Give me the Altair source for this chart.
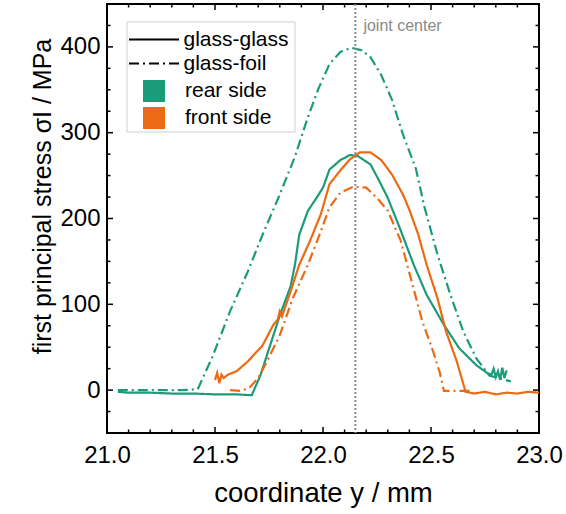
import altair as alt
import pandas as pd

TEAL = "#1b9b7a"
ORANGE = "#ec6a14"
FONT = "Liberation Sans"

# ---- data ----
sides = ["rear side", "front side"]
kinds = ["glass-glass", "glass-foil"]

rear_gg_x = [21.05, 21.10, 21.20, 21.30, 21.40, 21.50, 21.60, 21.67, 21.71, 21.755, 21.80, 21.85,
             21.87, 21.89, 21.93, 21.97, 22.00, 22.03, 22.08, 22.125, 22.16, 22.22, 22.26, 22.30,
             22.36, 22.42, 22.48, 22.56, 22.63, 22.71, 22.76, 22.78, 22.79, 22.80, 22.81, 22.82,
             22.83, 22.84, 22.85]
rear_gg_y = [-2, -3, -3, -4, -4, -5, -5, -6, 17, 52, 87, 121,
             146, 181, 209, 224, 236, 257, 268, 274, 273, 263, 244, 224,
             186, 146, 111, 76, 49, 29, 20, 18, 25, 15, 22, 12,
             26, 14, 23]

rear_gf_x = [21.05, 21.20, 21.35, 21.42, 21.49, 21.57, 21.65, 21.72, 21.80, 21.87, 21.93, 21.98,
             22.03, 22.08, 22.13, 22.18, 22.22, 22.27, 22.32, 22.37, 22.43, 22.47, 22.53, 22.59,
             22.65, 22.71, 22.77, 22.87]
rear_gf_y = [0, 0, 0, 1, 40, 92, 137, 181, 228, 272, 318, 352,
             380, 394, 399, 396, 388, 367, 338, 298, 258, 213, 158, 111,
             68, 37, 17, 10]

front_gg_x = [21.50, 21.51, 21.52, 21.53, 21.54, 21.56, 21.60, 21.65, 21.72, 21.77, 21.79, 21.80,
              21.81, 21.85, 21.89, 21.94, 21.99, 22.03, 22.08, 22.125, 22.17, 22.22, 22.27, 22.32,
              22.37, 22.40, 22.44, 22.48, 22.53, 22.57, 22.62, 22.66, 22.70, 22.75, 22.80, 22.85,
              22.90, 22.95, 23.00]
front_gg_y = [12, 20, 8, 18, 14, 18, 22, 33, 52, 76, 82, 92,
              86, 115, 146, 174, 205, 240, 256, 269, 277, 277, 268, 251,
              228, 210, 182, 146, 107, 68, 33, -2, -4, -2, -5, -3,
              -4, -2, -3]

front_gf_x = [21.57, 21.62, 21.66, 21.70, 21.74, 21.80, 21.86, 21.93, 21.99, 22.03, 22.08, 22.14,
              22.20, 22.25, 22.30, 22.36, 22.41, 22.46, 22.51, 22.54, 22.56, 22.62, 22.68]
front_gf_y = [0, -1, 3, 14, 33, 64, 107, 146, 185, 213, 230, 237,
              236, 224, 209, 174, 127, 80, 45, 21, -1, -1, -1]

joint_center = [22.15]
joint_label = ["joint center"]

x_major = [21.0, 21.5, 22.0, 22.5, 23.0]
x_minor = [21.1, 21.2, 21.3, 21.4, 21.6, 21.7, 21.8, 21.9, 22.1, 22.2, 22.3, 22.4,
           22.6, 22.7, 22.8, 22.9]
y_major = [0, 100, 200, 300, 400]
y_minor = [-25, 25, 50, 75, 125, 150, 175, 225, 250, 275, 325, 350, 375, 425]

# ---- build tables ----
rows = []
for side, kind, xs, ys in [
    ("rear side", "glass-glass", rear_gg_x, rear_gg_y),
    ("rear side", "glass-foil", rear_gf_x, rear_gf_y),
    ("front side", "glass-glass", front_gg_x, front_gg_y),
    ("front side", "glass-foil", front_gf_x, front_gf_y),
]:
    for i, (a, b) in enumerate(zip(xs, ys)):
        rows.append({"x": a, "y": b, "side": side, "kind": kind,
                     "series": side + "|" + kind, "idx": i})
df = pd.DataFrame(rows)

W, H = 432, 429
xscale = alt.Scale(domain=[21, 23], nice=False, zero=False)
yscale = alt.Scale(domain=[-50, 450], nice=False, zero=False)
# line colours: data-driven (alphabetical) domain -> front side, rear side
line_color_scale = alt.Scale(range=[ORANGE, TEAL])
# legend colours: explicit order rear, front
fill_scale = alt.Scale(domain=sides, range=[TEAL, ORANGE])
dash_scale = alt.Scale(domain=kinds, range=[[1, 0], [10, 4, 2, 4]])

x_axis = alt.Axis(values=x_major, format=".1f", title="coordinate y / mm",
                  ticks=False, domain=False, grid=False, labelFlush=False,
                  labelFontSize=24, labelPadding=10, labelFont=FONT, labelColor="black",
                  titleFontSize=27.5, titleFont=FONT, titleFontWeight="normal",
                  titleColor="black", titlePadding=12)
y_axis = alt.Axis(values=y_major, format="d", title="first principal stress σI / MPa",
                  ticks=False, domain=False, grid=False, labelFlush=False,
                  labelFontSize=24, labelPadding=7, labelFont=FONT, labelColor="black",
                  titleFontSize=25, titleFont=FONT, titleFontWeight="normal",
                  titleColor="black", titleAlign="center", titleBaseline="middle",
                  titleX=-65, titleY=192, titleAngle=270)


def X(field="x"):
    return alt.X(field + ":Q", scale=xscale, axis=x_axis)


def Y(field="y"):
    return alt.Y(field + ":Q", scale=yscale, axis=y_axis)


legend_box = alt.Chart(pd.DataFrame({"k": [0]})).mark_rect(
    fill="white", stroke="#d0d0d0", strokeWidth=1
).encode(x=alt.value(20), x2=alt.value(188), y=alt.value(18), y2=alt.value(128))

lines = alt.Chart(df).mark_line(color="black", strokeWidth=2.2, clip=True).encode(
    x=X(), y=Y(),
    color=alt.Color("side:N", scale=line_color_scale, legend=None),
    strokeDash=alt.StrokeDash(
        "kind:N", scale=dash_scale,
        legend=alt.Legend(title=None, orient="none", legendX=21, legendY=22,
                          symbolType="M-2,0H2", symbolSize=625, symbolStrokeWidth=2,
                          symbolStrokeColor="black", symbolOffset=12.5, labelOffset=16,
                          labelFontSize=21, labelFont=FONT, labelColor="black",
                          rowPadding=0, padding=0)),
    detail="series:N",
    order="idx:Q",
)

# invisible squares that carry the colour legend (filled square symbols)
squares = alt.Chart(df).mark_square(size=4, filled=True, opacity=0, clip=True).encode(
    x=X(), y=Y(),
    fill=alt.Fill("side:N", scale=fill_scale,
                  legend=alt.Legend(title=None, orient="none", legendX=22, legendY=76,
                                    symbolType="square", symbolSize=484, symbolStrokeWidth=0,
                                    symbolOpacity=1, symbolOffset=14, labelOffset=20,
                                    labelFontSize=21, labelFont=FONT, labelColor="black",
                                    rowPadding=5, padding=0)),
)

jc = pd.DataFrame({"x": joint_center, "t": joint_label})
jc_rule = alt.Chart(jc).mark_rule(color="#8a8a8a", strokeDash=[2, 2], strokeWidth=2).encode(x=X())
jc_text = alt.Chart(jc).mark_text(align="left", baseline="middle", dx=8, fontSize=16,
                                  font=FONT, color="#8a8a8a").encode(
    x=X(), y=alt.value(22), text="t:N")


def xticks(vals, length):
    d = pd.DataFrame({"x": vals})
    b = alt.Chart(d).mark_rule(color="black", strokeWidth=1.5).encode(
        x=X(), y=alt.value(H), y2=alt.value(H - length))
    t = alt.Chart(d).mark_rule(color="black", strokeWidth=1.5).encode(
        x=X(), y=alt.value(0), y2=alt.value(length))
    return [b, t]


def yticks(vals, length):
    d = pd.DataFrame({"y": vals})
    l = alt.Chart(d).mark_rule(color="black", strokeWidth=1.5).encode(
        y=Y(), x=alt.value(0), x2=alt.value(length))
    r = alt.Chart(d).mark_rule(color="black", strokeWidth=1.5).encode(
        y=Y(), x=alt.value(W), x2=alt.value(W - length))
    return [l, r]


tick_layers = xticks(x_major, 6) + xticks(x_minor, 3.5) + yticks(y_major, 6) + yticks(y_minor, 3.5)

chart = alt.layer(
    lines, squares, legend_box, jc_rule, jc_text, *tick_layers
).properties(
    width=W, height=H,
    autosize=alt.AutoSizeParams(type="none"),
    padding={"left": 107, "top": 4, "right": 27, "bottom": 81},
    background="white",
).configure_view(stroke="black", strokeWidth=2)

chart.save("out.html", embed_options={"renderer": "svg", "actions": False})
